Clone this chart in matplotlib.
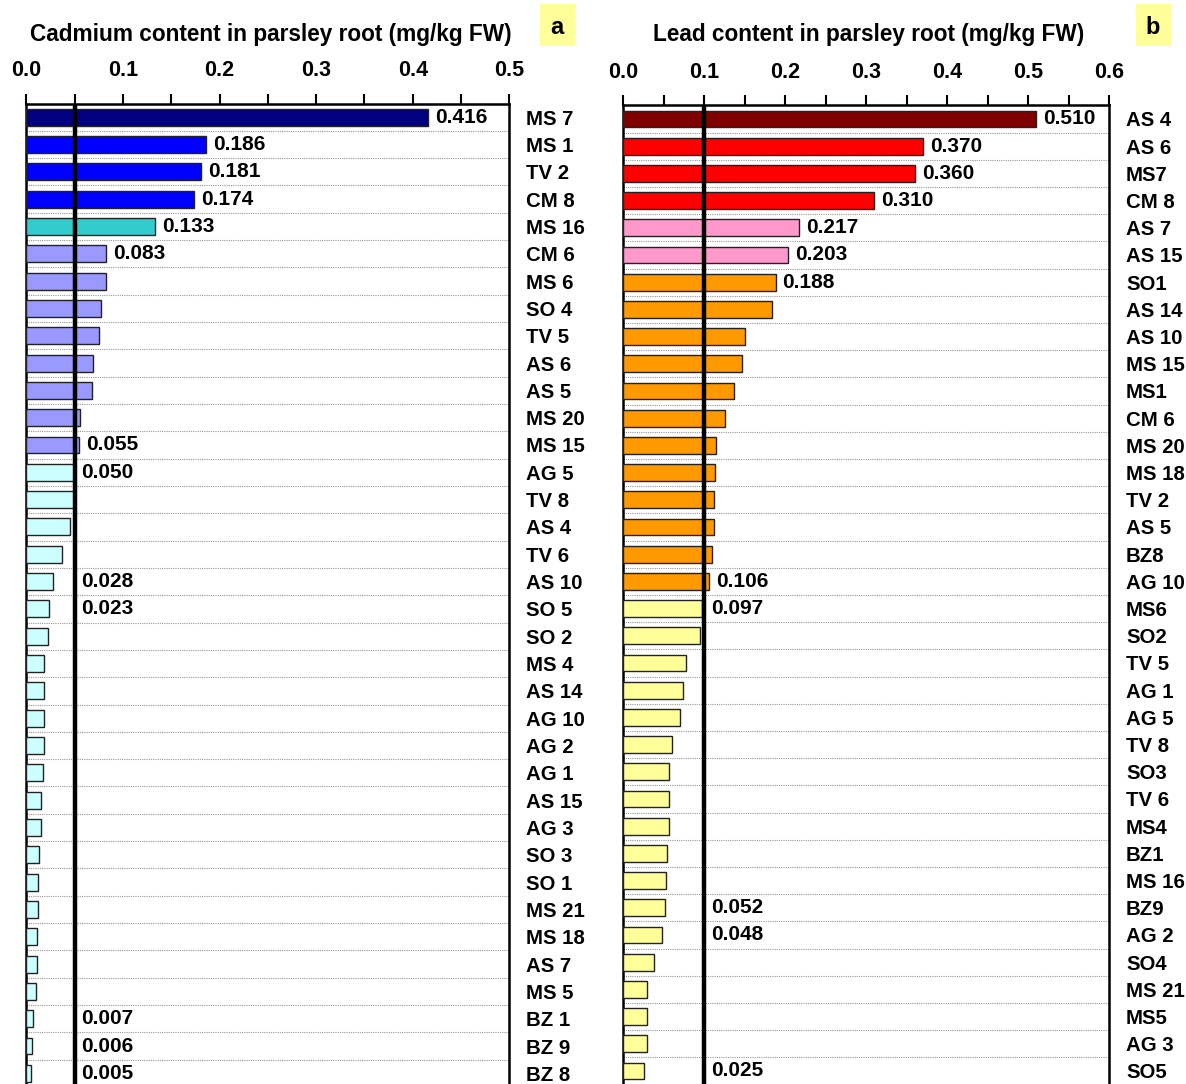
import matplotlib
matplotlib.use('Agg')
import matplotlib.pyplot as plt
from matplotlib.patches import Rectangle

plt.rcParams['font.family'] = ['Liberation Sans', 'DejaVu Sans']
plt.rcParams['font.weight'] = 'bold'

# Cadmium (panel a)
cd_sites = ['MS 7', 'MS 1', 'TV 2', 'CM 8', 'MS 16', 'CM 6', 'MS 6', 'SO 4', 'TV 5',
            'AS 6', 'AS 5', 'MS 20', 'MS 15', 'AG 5', 'TV 8', 'AS 4', 'TV 6', 'AS 10',
            'SO 5', 'SO 2', 'MS 4', 'AS 14', 'AG 10', 'AG 2', 'AG 1', 'AS 15', 'AG 3',
            'SO 3', 'SO 1', 'MS 21', 'MS 18', 'AS 7', 'MS 5', 'BZ 1', 'BZ 9', 'BZ 8']
cd_values = [0.416, 0.186, 0.181, 0.174, 0.133, 0.083, 0.082, 0.077, 0.075,
             0.069, 0.068, 0.056, 0.055, 0.050, 0.049, 0.045, 0.037, 0.028,
             0.023, 0.022, 0.018, 0.018, 0.018, 0.018, 0.017, 0.015, 0.015,
             0.013, 0.012, 0.012, 0.011, 0.011, 0.010, 0.007, 0.006, 0.005]
cd_labelled = ['MS 7', 'MS 1', 'TV 2', 'CM 8', 'MS 16', 'CM 6', 'MS 15', 'AG 5',
               'AS 10', 'SO 5', 'BZ 1', 'BZ 9', 'BZ 8']
cd_limit = 0.05

# Lead (panel b)
pb_sites = ['AS 4', 'AS 6', 'MS7', 'CM 8', 'AS 7', 'AS 15', 'SO1', 'AS 14', 'AS 10',
            'MS 15', 'MS1', 'CM 6', 'MS 20', 'MS 18', 'TV 2', 'AS 5', 'BZ8', 'AG 10',
            'MS6', 'SO2', 'TV 5', 'AG 1', 'AG 5', 'TV 8', 'SO3', 'TV 6', 'MS4', 'BZ1',
            'MS 16', 'BZ9', 'AG 2', 'SO4', 'MS 21', 'MS5', 'AG 3', 'SO5']
pb_values = [0.510, 0.370, 0.360, 0.310, 0.217, 0.203, 0.188, 0.184, 0.150,
             0.147, 0.137, 0.126, 0.115, 0.113, 0.112, 0.112, 0.109, 0.106,
             0.097, 0.095, 0.077, 0.074, 0.070, 0.060, 0.056, 0.056, 0.056, 0.054,
             0.053, 0.052, 0.048, 0.038, 0.029, 0.029, 0.029, 0.025]
pb_labelled = ['AS 4', 'AS 6', 'MS7', 'CM 8', 'AS 7', 'AS 15', 'SO1', 'AG 10',
               'MS6', 'BZ9', 'AG 2', 'SO5']
pb_limit = 0.1

# colour runs: (number of bars, colour), top to bottom
cd_runs = [(1, '#000080'), (3, '#0000FF'), (1, '#33CCCC'), (8, '#9999FF'), (23, '#CCFFFF')]
pb_runs = [(1, '#800000'), (3, '#FF0000'), (2, '#FF99CC'), (12, '#FF9900'), (18, '#FFFF99')]

W, H = 1186, 1084
fig = plt.figure(figsize=(W / 100, H / 100), dpi=100)


def expand(runs):
    out = []
    for n, c in runs:
        out += [c] * n
    return out


def panel(rect, sites, values, labelled, limit, runs, xmax, title, title_x, letter, box_x):
    ax = fig.add_axes(rect)
    n = len(sites)
    y = list(range(n))
    ax.barh(y, values, height=0.62, color=expand(runs), edgecolor='#222222',
            linewidth=1.0, zorder=3)
    ax.set_ylim(n - 0.5, -0.5)
    ax.set_xlim(0, xmax)

    # dotted separators between rows
    for k in range(n):
        ax.axhline(k + 0.5, color='#999999', linestyle=(0, (1, 1)), linewidth=0.8, zorder=1)

    ax.axvline(limit, color='black', linewidth=3.2, zorder=4)

    for i, (s, v) in enumerate(zip(sites, values)):
        if s in labelled:
            ax.annotate(f'{v:.3f}', (max(v, limit), i), xytext=(5, 0),
                        textcoords='offset points', va='center', ha='left',
                        fontsize=15, fontweight='bold', zorder=5)

    ax.xaxis.tick_top()
    ticks = [round(t * 0.1, 1) for t in range(int(round(xmax * 10)) + 1)]
    ax.set_xticks(ticks)
    ax.set_xticklabels([f'{t:.1f}' for t in ticks], fontsize=15.5, fontweight='bold')
    ax.set_xticks([t + 0.05 for t in ticks[:-1]], minor=True)
    ax.tick_params(axis='x', which='both', direction='out', length=7, width=1.5, pad=9)

    ax.yaxis.tick_right()
    ax.set_yticks(y)
    ax.set_yticklabels(sites, fontsize=14.7, fontweight='bold')
    ax.tick_params(axis='y', length=0, pad=12)

    for side in ['left', 'right', 'top']:
        ax.spines[side].set_linewidth(1.8)
    ax.spines['bottom'].set_visible(False)

    fig.text(title_x / W, 1 - 35 / H, title, ha='center', va='center',
             fontsize=16.3, fontweight='bold')
    fig.patches.append(Rectangle((box_x / W, 1 - 46 / H), 35 / W, 42 / H,
                                 transform=fig.transFigure, facecolor='#FFFF99',
                                 edgecolor='none'))
    fig.text((box_x + 17) / W, 1 - 27 / H, letter, ha='center', va='center',
             fontsize=17, fontweight='bold')
    return ax


panel([26.3 / W, -3 / H, 483 / W, (1084 - 103.5 + 3) / H], cd_sites, cd_values,
      cd_labelled, cd_limit, cd_runs, 0.5,
      'Cadmium content in parsley root (mg/kg FW)', 271, 'a', 540)
panel([623.3 / W, -0.6 / H, 486 / W, (1084 - 105.4 + 0.6) / H], pb_sites, pb_values,
      pb_labelled, pb_limit, pb_runs, 0.6,
      'Lead content in parsley root (mg/kg FW)', 869, 'b', 1136)

fig.savefig('out.png', dpi=100, facecolor='white')
